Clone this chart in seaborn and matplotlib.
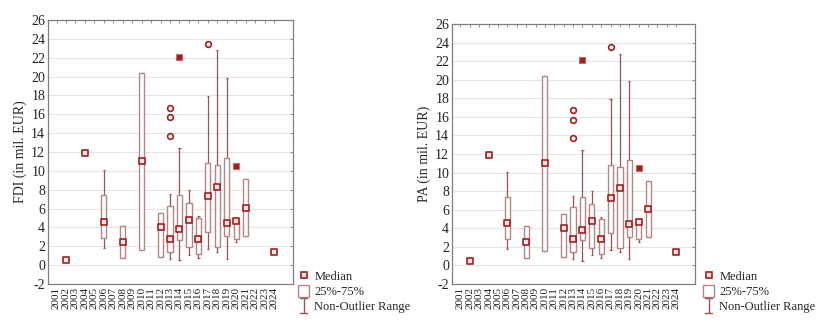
import numpy as np
import pandas as pd
import matplotlib
matplotlib.use("Agg")
import matplotlib.pyplot as plt
import seaborn as sns
from matplotlib.lines import Line2D
from matplotlib.patches import Rectangle
from matplotlib.legend_handler import HandlerBase

# ---------------- data ----------------
years = ["2001", "2002", "2003", "2004", "2005", "2006", "2007", "2008",
         "2009", "2010", "2011", "2012", "2013", "2014", "2015", "2016",
         "2017", "2018", "2019", "2020", "2021", "2022", "2023", "2024"]

box_years = ["2006", "2008", "2010", "2012", "2013", "2014", "2015",
             "2016", "2017", "2018", "2019", "2020", "2021"]
fdi_q1 = [2.9, 0.8, 1.6, 0.9, 1.4, 2.7, 1.9, 1.2, 3.5, 1.9, 3.1, 2.8, 3.05]
fdi_q3 = [7.4, 4.2, 20.4, 5.5, 6.3, 7.4, 6.6, 5.0, 10.8, 10.6, 11.4, 4.7, 9.1]
fdi_wlo = [1.8, 0.8, 1.6, 0.9, 0.7, 0.5, 1.1, 0.8, 1.7, 1.4, 0.7, 2.5, 3.05]
fdi_whi = [10.1, 4.2, 20.4, 5.5, 7.5, 12.4, 8.0, 5.2, 17.9, 22.8, 19.9, 4.7, 9.1]

median_years = ["2002", "2004", "2006", "2008", "2010", "2012", "2013", "2014",
                "2015", "2016", "2017", "2018", "2019", "2020", "2021", "2024"]
fdi_median = [0.5, 11.9, 4.6, 2.5, 11.0, 4.0, 2.8, 3.8,
              4.8, 2.8, 7.3, 8.3, 4.5, 4.65, 6.1, 1.4]

outlier_years = ["2013", "2013", "2013", "2017"]
fdi_outliers = [13.7, 15.7, 16.7, 23.5]
extreme_years = ["2014", "2020"]
fdi_extremes = [22.1, 10.5]

pa_q1 = [2.9, 0.8, 1.6, 0.9, 1.4, 2.7, 1.9, 1.2, 3.5, 1.9, 3.1, 2.8, 3.05]
pa_q3 = [7.4, 4.2, 20.4, 5.5, 6.3, 7.4, 6.6, 5.0, 10.8, 10.6, 11.4, 4.7, 9.1]
pa_wlo = [1.8, 0.8, 1.6, 0.9, 0.7, 0.5, 1.1, 0.8, 1.7, 1.4, 0.7, 2.5, 3.05]
pa_whi = [10.1, 4.2, 20.4, 5.5, 7.5, 12.4, 8.0, 5.2, 17.9, 22.8, 19.9, 4.7, 9.1]
pa_median = [0.5, 11.9, 4.6, 2.5, 11.0, 4.0, 2.8, 3.8,
             4.8, 2.8, 7.3, 8.3, 4.5, 4.65, 6.1, 1.4]
pa_outliers = [13.7, 15.7, 16.7, 23.5]
pa_extremes = [22.1, 10.5]

y_ticks = [-2, 0, 2, 4, 6, 8, 10, 12, 14, 16, 18, 20, 22, 24, 26]
legend_labels = ["Median", "25%-75%", "Non-Outlier Range"]

# ---------------- style ----------------
sns.set_style("white")
plt.rcParams["font.family"] = ["Liberation Serif", "DejaVu Serif"]

RED = "#9e1f1f"
BOXC = "#b58585"
WHC = "#9a5252"
SPINE = "#7f7f7f"


def pos(lst):
    return [years.index(y) for y in lst]


class RangeHandle:
    pass


class HandlerRange(HandlerBase):
    def create_artists(self, legend, orig_handle, xdescent, ydescent,
                       width, height, fontsize, trans):
        cx = width / 2 - xdescent
        y0 = -ydescent - 1
        y1 = height - ydescent + 1
        cw = width * 0.3
        arts = [Line2D([cx, cx], [y0, y1], color=WHC, lw=1.0),
                Line2D([cx - cw, cx + cw], [y0, y0], color=WHC, lw=1.0),
                Line2D([cx - cw, cx + cw], [y1, y1], color=WHC, lw=1.0)]
        for a in arts:
            a.set_transform(trans)
        return arts


def draw(ax, q1, q3, wlo, whi, med, outl, extr, ylabel):
    bp = pos(box_years)
    df_box = pd.DataFrame({"x": bp, "q1": q1, "q3": q3, "lo": wlo, "hi": whi})
    ax.vlines(df_box["x"], df_box["lo"], df_box["hi"], color=WHC, lw=0.9, zorder=2)
    ax.hlines(df_box["hi"], df_box["x"] - 0.12, df_box["x"] + 0.12, color=WHC, lw=0.9, zorder=2)
    ax.hlines(df_box["lo"], df_box["x"] - 0.12, df_box["x"] + 0.12, color=WHC, lw=0.9, zorder=2)
    ax.bar(df_box["x"], df_box["q3"] - df_box["q1"], bottom=df_box["q1"], width=0.55,
           facecolor="white", edgecolor=BOXC, linewidth=1.0, zorder=3)
    df_med = pd.DataFrame({"x": pos(median_years), "y": med})
    sns.scatterplot(data=df_med, x="x", y="y", marker="s", s=15, facecolor="#f3e3e3",
                    edgecolor=RED, linewidth=1.2, ax=ax, zorder=4)
    df_out = pd.DataFrame({"x": pos(outlier_years), "y": outl})
    sns.scatterplot(data=df_out, x="x", y="y", marker="o", s=17, facecolor="white",
                    edgecolor=RED, linewidth=1.2, ax=ax, zorder=4)
    df_ext = pd.DataFrame({"x": pos(extreme_years), "y": extr})
    sns.scatterplot(data=df_ext, x="x", y="y", marker="s", s=18, facecolor=RED,
                    edgecolor="#c46a6a", linewidth=0.8, ax=ax, zorder=4)

    ax.set_xlim(-0.9, 25.0)
    ax.set_ylim(-2, 26)
    ax.set_yticks(y_ticks)
    ax.set_yticklabels([str(t) for t in y_ticks], fontsize=10)
    ax.set_xticks(range(len(years)))
    ax.set_xticklabels(years, rotation=90, fontsize=8)
    ax.set_xlabel("")
    ax.set_ylabel(ylabel, fontsize=10, labelpad=3)
    ax.yaxis.grid(True, color="#e4e4e4", lw=0.8)
    ax.set_axisbelow(True)
    for sp in ax.spines.values():
        sp.set_color(SPINE)
        sp.set_linewidth(0.9)
        sp.set_visible(True)
    ax.tick_params(axis="both", direction="in", top=True, right=True,
                   length=2.5, width=0.6, color=SPINE, pad=2, labelcolor="#222222")


fig = plt.figure(figsize=(8.2, 3.26), dpi=100)
ax1 = fig.add_axes([48 / 820, 42 / 326, 245 / 820, 264 / 326])
ax2 = fig.add_axes([452 / 820, 42 / 326, 243 / 820, 260 / 326])

draw(ax1, fdi_q1, fdi_q3, fdi_wlo, fdi_whi, fdi_median, fdi_outliers, fdi_extremes,
     "FDI (in mil. EUR)")
draw(ax2, pa_q1, pa_q3, pa_wlo, pa_whi, pa_median, pa_outliers, pa_extremes,
     "PA (in mil. EUR)")

handles = [Line2D([], [], marker="s", ls="none", markersize=4, markerfacecolor="#f3e3e3",
                  markeredgecolor=RED, markeredgewidth=1.2),
           Rectangle((0, 0), 1, 1, facecolor="white", edgecolor=BOXC, lw=1.0),
           RangeHandle()]

for xa in [298 / 820, 703 / 820]:
    fig.legend(handles=handles, labels=legend_labels,
               handler_map={RangeHandle: HandlerRange()},
               loc="upper left", bbox_to_anchor=(xa, 56 / 326), frameon=False,
               fontsize=9, handlelength=0.9, handleheight=1.1, handletextpad=0.4,
               labelspacing=0.12, borderpad=0, borderaxespad=0)

fig.savefig("out.png", dpi=100, facecolor="white")
